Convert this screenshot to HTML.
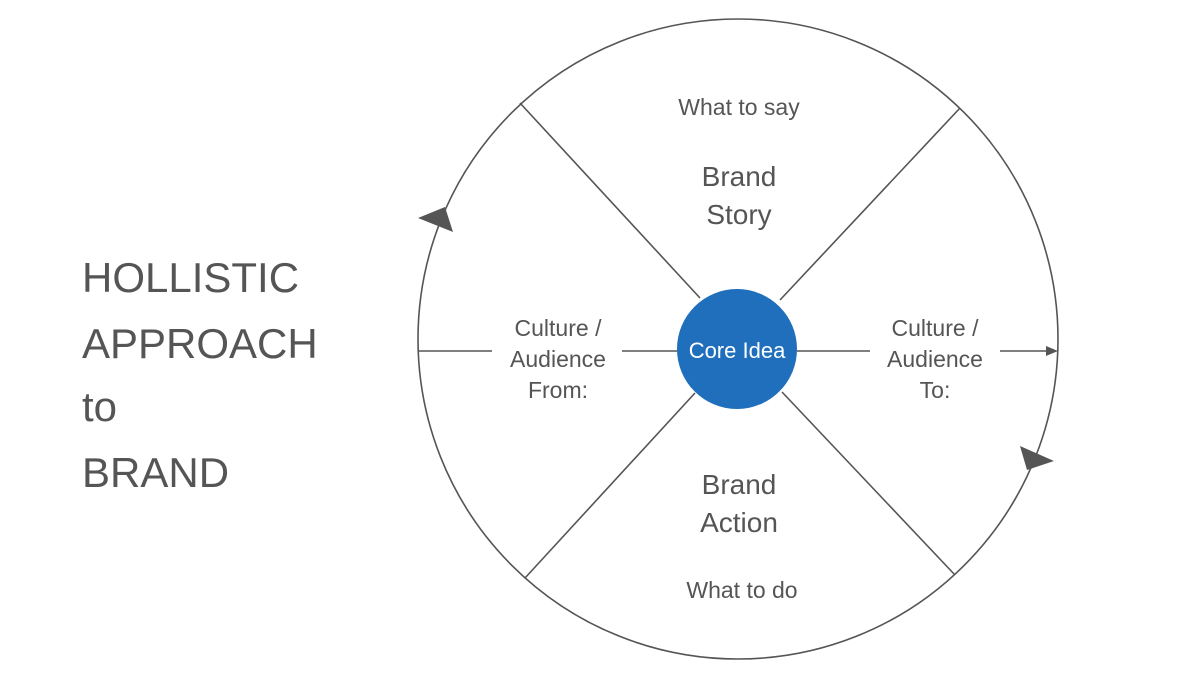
<!DOCTYPE html>
<html><head><meta charset="utf-8"><style>
body{margin:0;background:#fff;width:1200px;height:681px;overflow:hidden}
text{font-family:"Liberation Sans",sans-serif;fill:#555}
</style></head><body>
<svg width="1200" height="681" viewBox="0 0 1200 681" xmlns="http://www.w3.org/2000/svg">
<circle cx="738" cy="339" r="320" fill="none" stroke="#555" stroke-width="1.6"/>
<g stroke="#555" stroke-width="1.6">
<line x1="520" y1="103" x2="700" y2="298"/>
<line x1="960" y1="108" x2="780" y2="300"/>
<line x1="695" y1="393" x2="525" y2="578"/>
<line x1="782" y1="392" x2="955" y2="575"/>
<line x1="418" y1="351" x2="492" y2="351"/>
<line x1="622" y1="351" x2="678" y2="351"/>
<line x1="797" y1="351" x2="870" y2="351"/>
<line x1="1000" y1="351" x2="1050" y2="351"/>
</g>
<polygon points="1058,351 1046,346 1046,356" fill="#555"/>
<polygon points="418,218 445,207 453,232" fill="#555"/>
<polygon points="1020,446 1054,461 1027,470" fill="#555"/>
<circle cx="737" cy="349" r="60" fill="#1f6fbd"/>
<text x="737" y="358" text-anchor="middle" font-size="22" style="fill:#fff">Core Idea</text>
<g font-size="23" text-anchor="middle">
<text x="739" y="115">What to say</text>
<text x="739" y="186" font-size="28">Brand</text>
<text x="739" y="224" font-size="28">Story</text>
<text x="739" y="494" font-size="28">Brand</text>
<text x="739" y="532" font-size="28">Action</text>
<text x="742" y="598">What to do</text>
<text x="558" y="336">Culture /</text>
<text x="558" y="367">Audience</text>
<text x="558" y="398">From:</text>
<text x="935" y="336">Culture /</text>
<text x="935" y="367">Audience</text>
<text x="935" y="398">To:</text>
</g>
<g font-size="42">
<text x="82" y="292">HOLLISTIC</text>
<text x="82" y="358">APPROACH</text>
<text x="82" y="421">to</text>
<text x="82" y="487">BRAND</text>
</g>
</svg>
</body></html>
